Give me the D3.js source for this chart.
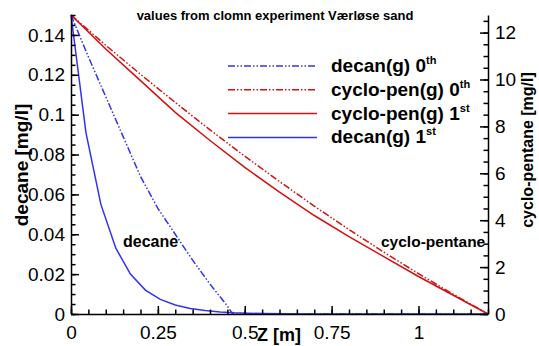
<!DOCTYPE html>
<html>
<head>
<meta charset="utf-8">
<script src="https://cdn.jsdelivr.net/npm/d3@7"></script>
<style>
  body { margin: 0; background: #fff; }
  svg text { font-family: "Liberation Sans", Arial, sans-serif; fill: #000; }
  .axis path, .axis line { stroke: #000; stroke-width: 1.5; }
  .axis text { font-size: 19px; }
</style>
</head>
<body>
<div id="chart"></div>
<script>
// decane, 1st order (solid blue)
var zDecan1 = [0, 0.043, 0.086, 0.129, 0.171, 0.214, 0.257, 0.3, 0.343, 0.386, 0.429, 0.471, 0.55, 0.7, 0.9, 1.2];
var decan1 = [0.15, 0.091, 0.055, 0.033, 0.020, 0.012, 0.0073, 0.0045, 0.0028, 0.0017, 0.001, 0.0006, 0.0002, 0, 0, 0];

// decane, 0th order (blue dash-dot)
var zDecan0 = [0, 0.05, 0.1, 0.15, 0.2, 0.25, 0.3, 0.35, 0.4, 0.45, 0.465, 0.6, 0.9, 1.2];
var decan0 = [0.15, 0.129, 0.109, 0.089, 0.069, 0.053, 0.040, 0.027, 0.015, 0.004, 0, 0, 0, 0];

// cyclo-pentane (right axis)
var zCyclo = [0, 0.1, 0.2, 0.3, 0.4, 0.5, 0.6, 0.7, 0.8, 0.9, 1.0, 1.1, 1.2];
var cyclo0 = [12.75, 11.46, 10.22, 9.02, 7.85, 6.73, 5.65, 4.60, 3.60, 2.64, 1.72, 0.84, 0];
var cyclo1 = [12.75, 11.3, 9.95, 8.6, 7.4, 6.25, 5.2, 4.2, 3.3, 2.45, 1.6, 0.8, 0];

var xTicks = [0, 0.25, 0.5, 0.75, 1];
var leftTicks = [0, 0.02, 0.04, 0.06, 0.08, 0.1, 0.12, 0.14];
var rightTicks = [0, 2, 4, 6, 8, 10, 12];

var legendNames = ["decan(g) 0", "cyclo-pen(g) 0", "cyclo-pen(g) 1", "decan(g) 1"];
var legendSups = ["th", "th", "st", "st"];

var W = 539, H = 346;
var margin = {top: 15, right: 51, bottom: 32, left: 71};
var width = W - margin.left - margin.right, height = H - margin.top - margin.bottom;

var blue = "#3232f5", red = "#d41010";
var dashdot = "7,2,1.5,2,1.5,2";

var svg = d3.select("#chart").append("svg")
    .attr("width", W)
    .attr("height", H);

var g = svg.append("g")
    .attr("transform", "translate(" + margin.left + "," + margin.top + ")");

var x = d3.scaleLinear().domain([0, 1.2]).range([0, width]);
var yL = d3.scaleLinear().domain([0, 0.15]).range([height, 0]);
var yR = d3.scaleLinear().domain([0, 12.75]).range([height, 0]);

// curves
function drawLine(xs, ys, yscale, color, dash) {
  var pts = xs.map(function(d, i){ return [d, ys[i]]; });
  var line = d3.line()
      .x(function(d){ return x(d[0]); })
      .y(function(d){ return yscale(d[1]); });
  g.append("path")
      .datum(pts)
      .attr("d", line)
      .attr("fill", "none")
      .attr("stroke", color)
      .attr("stroke-width", 1.5)
      .attr("stroke-dasharray", dash);
}

drawLine(zCyclo, cyclo0, yR, red, dashdot);
drawLine(zCyclo, cyclo1, yR, red, null);
drawLine(zDecan0, decan0, yL, blue, dashdot);
drawLine(zDecan1, decan1, yL, blue, null);

// axes
var minorX = d3.range(0, 1.2001, 0.05);
var minorL = d3.range(0, 0.1501, 0.005);
var minorR = d3.range(0, 12.751, 0.5);

g.append("g").attr("class", "axis")
    .attr("transform", "translate(0," + height + ")")
    .call(d3.axisBottom(x).tickValues(minorX).tickSize(-4.5).tickSizeOuter(0).tickFormat(""));
g.append("g").attr("class", "axis")
    .attr("transform", "translate(0," + height + ")")
    .call(d3.axisBottom(x).tickValues(xTicks).tickSize(-8).tickSizeOuter(0).tickPadding(12)
      .tickFormat(function(d){ return d3.format("~g")(d); }))
    .call(function(s){ s.select(".domain").remove(); });

g.append("g").attr("class", "axis")
    .call(d3.axisLeft(yL).tickValues(minorL).tickSize(-4.5).tickSizeOuter(0).tickFormat(""));
g.append("g").attr("class", "axis")
    .call(d3.axisLeft(yL).tickValues(leftTicks).tickSize(-8).tickSizeOuter(0).tickPadding(6)
      .tickFormat(function(d){ return d3.format("~g")(d); }))
    .call(function(s){ s.select(".domain").remove(); });

g.append("g").attr("class", "axis")
    .attr("transform", "translate(" + width + ",0)")
    .call(d3.axisRight(yR).tickValues(minorR).tickSize(-4.5).tickSizeOuter(0).tickFormat(""));
g.append("g").attr("class", "axis")
    .attr("transform", "translate(" + width + ",0)")
    .call(d3.axisRight(yR).tickValues(rightTicks).tickSize(-8).tickSizeOuter(0).tickPadding(7))
    .call(function(s){ s.select(".domain").remove(); });

// titles
svg.append("text")
    .attr("x", 275).attr("y", 20)
    .attr("text-anchor", "middle")
    .style("font-size", "13px").style("font-weight", "bold")
    .text("values from clomn experiment Værløse sand");

svg.append("text")
    .attr("x", 257).attr("y", 341)
    .style("font-size", "18px").style("font-weight", "bold")
    .text("Z [m]");

svg.append("text")
    .attr("transform", "translate(28,165) rotate(-90)")
    .attr("text-anchor", "middle")
    .style("font-size", "19px").style("font-weight", "bold")
    .text("decane [mg/l]");

svg.append("text")
    .attr("transform", "translate(533,150) rotate(-90)")
    .attr("text-anchor", "middle")
    .style("font-size", "16px").style("font-weight", "bold")
    .text("cyclo-pentane [mg/l]");

// curve labels
svg.append("text")
    .attr("x", 123).attr("y", 247)
    .style("font-size", "16px").style("font-weight", "bold")
    .text("decane");
svg.append("text")
    .attr("x", 381).attr("y", 247)
    .style("font-size", "15.5px").style("font-weight", "bold")
    .text("cyclo-pentane");

// legend
var legendColors = [blue, red, red, blue];
var legendDash = [dashdot, dashdot, null, null];
var legend = svg.append("g");
legendNames.forEach(function(name, i){
  var ly = 66 + i * 23.8;
  legend.append("line")
      .attr("x1", 228).attr("x2", 317)
      .attr("y1", ly).attr("y2", ly)
      .attr("stroke", legendColors[i])
      .attr("stroke-width", 1.5)
      .attr("stroke-dasharray", legendDash[i]);
  var t = legend.append("text")
      .attr("x", 331).attr("y", ly + 6)
      .style("font-size", "19px").style("font-weight", "bold");
  t.append("tspan").text(name);
  t.append("tspan")
      .attr("dy", -8)
      .style("font-size", "11px")
      .text(legendSups[i]);
});
</script>
</body>
</html>
